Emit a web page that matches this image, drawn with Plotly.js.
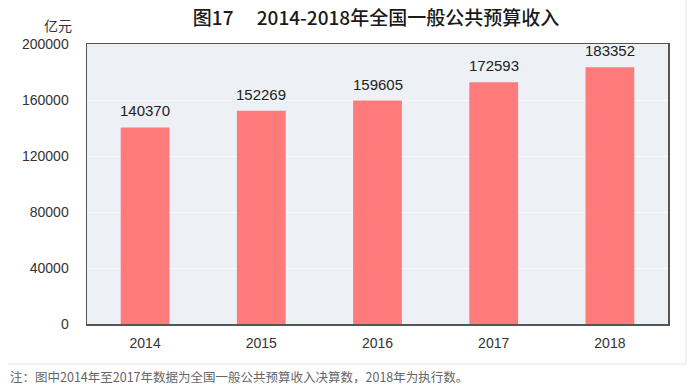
<!DOCTYPE html>
<html>
<head>
<meta charset="utf-8">
<script src="https://cdn.plot.ly/plotly-3.0.1.min.js"></script>
<style>html,body{margin:0;padding:0;background:#fff;}#chart{width:698px;height:388px;}</style>
</head>
<body>
<div id="chart"></div>
<script>
const years = ['2014', '2015', '2016', '2017', '2018'];
const revenue = [140370, 152269, 159605, 172593, 183352];
const yTicks = [0, 40000, 80000, 120000, 160000, 200000];
const titleText = '图17\u3000 2014-2018年全国一般公共预算收入';
const unitText = '亿元';
const noteText = '注：图中2014年至2017年数据为全国一般公共预算收入决算数，2018年为执行数。';

const L = 87, R = 668, T = 44, B = 324, W = 698, H = 388;
const px = x => (x - L) / (R - L);
const py = y => (B - y) / (B - T);

const trace = {
  type: 'bar',
  x: years,
  y: revenue,
  width: 0.42,
  marker: {color: '#ff7b7b'},
  cliponaxis: false,
  hoverinfo: 'none'
};

const valueLabels = years.map((yr, i) => ({
  text: String(revenue[i]), xref: 'x', yref: 'y', x: i, y: revenue[i],
  xanchor: 'center', yanchor: 'bottom', yshift: 6, showarrow: false,
  font: {family: 'Liberation Sans, Arial, sans-serif', size: 15, color: '#222'}
}));

const layout = {
  width: W, height: H,
  margin: {l: L, r: W - R, t: T, b: H - B},
  paper_bgcolor: '#ffffff',
  plot_bgcolor: '#edf1f6',
  showlegend: false,
  title: {
    text: titleText,
    x: 376 / W, xref: 'container', xanchor: 'center',
    y: 1 - 18 / H, yref: 'container', yanchor: 'middle',
    font: {family: 'Noto Sans CJK SC, sans-serif', size: 19, color: '#1a1a1a', weight: 500}
  },
  xaxis: {
    type: 'category',
    categoryorder: 'array', categoryarray: years,
    range: [-0.5, years.length - 0.5],
    showline: true, mirror: true, linecolor: '#555', linewidth: 1.5,
    ticks: 'outside', ticklen: 6, tickcolor: 'rgba(0,0,0,0)',
    tickfont: {family: 'Liberation Sans, Arial, sans-serif', size: 14, color: '#333'},
    showgrid: false, zeroline: false, fixedrange: true
  },
  yaxis: {
    range: [0, 200000],
    tickvals: yTicks,
    ticktext: yTicks.map(String),
    showline: true, mirror: true, linecolor: '#555', linewidth: 1.5,
    ticks: 'outside', ticklen: 14, tickcolor: 'rgba(0,0,0,0)',
    tickfont: {family: 'Liberation Sans, Arial, sans-serif', size: 14, color: '#333'},
    showgrid: true, gridcolor: '#f7f9fc', gridwidth: 1,
    zeroline: false, fixedrange: true
  },
  annotations: [
    {text: unitText, xref: 'paper', yref: 'paper', x: px(58), y: py(25),
     xanchor: 'center', yanchor: 'middle', showarrow: false,
     font: {family: 'Noto Sans CJK SC, sans-serif', size: 14, color: '#333'}},
    {text: noteText, xref: 'paper', yref: 'paper', x: px(8), y: py(376),
     xanchor: 'left', yanchor: 'middle', showarrow: false,
     font: {family: 'Noto Sans CJK SC, sans-serif', size: 12.5, color: '#666'}}
  ].concat(valueLabels),
  shapes: [
    {type: 'line', xref: 'paper', yref: 'paper', x0: px(686), x1: px(686), y0: py(0), y1: py(364),
     line: {color: '#e4e4e4', width: 1}},
    {type: 'line', xref: 'paper', yref: 'paper', x0: px(8), x1: px(686), y0: py(364), y1: py(364),
     line: {color: '#e4e4e4', width: 1}}
  ]
};

Plotly.newPlot('chart', [trace], layout, {staticPlot: true, displayModeBar: false});
</script>
</body>
</html>
